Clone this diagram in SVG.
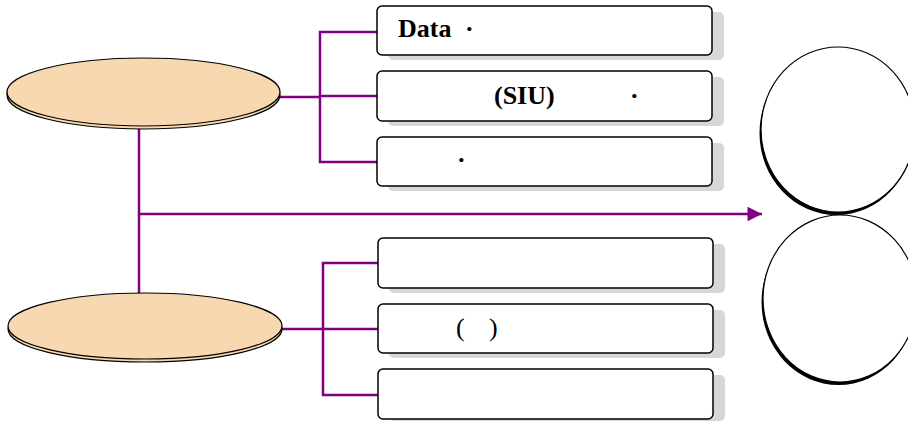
<svg xmlns="http://www.w3.org/2000/svg" width="908" height="421" viewBox="0 0 908 421">
<defs>
<style>
.box{fill:#fff;stroke:#000;stroke-width:1.5}
.sh{fill:#d6d8d6}
.ell{fill:#f7d8b0;stroke:#000;stroke-width:1.2}
.con{fill:none;stroke:#800080;stroke-width:2.5}
.t{font-family:"Liberation Serif",serif;font-size:26px;fill:#000}
.b{font-weight:bold}
.circ{fill:#fff;stroke:#000;stroke-width:1.2}
</style>
<marker id="arr" viewBox="0 0 10 10" refX="10" refY="5" markerWidth="7.6" markerHeight="5.8" markerUnits="strokeWidth" orient="auto">
<path d="M0,0 L10,5 L0,10 Z" fill="#800080"/>
</marker>
</defs>
<rect width="908" height="421" fill="#fff"/>
<g id="connectors">
<polyline class="con" points="280,97 320,97"/>
<polyline class="con" points="378,32 320,32 320,162 378,162"/>
<polyline class="con" points="320,96 378,96"/>
<polyline class="con" points="282,329 323,329"/>
<polyline class="con" points="378,263 323,263 323,395 378,395"/>
<polyline class="con" points="323,329 378,329"/>
<line class="con" x1="139" y1="128" x2="139" y2="294"/>
<line class="con" x1="139" y1="214" x2="762" y2="214" marker-end="url(#arr)"/>
</g>
<g id="ellipse-top">
<ellipse class="ell" cx="143.5" cy="95" rx="136.5" ry="34"/>
<ellipse class="ell" cx="143.5" cy="92" rx="136.5" ry="34"/>
</g>
<g id="ellipse-bottom">
<ellipse class="ell" cx="145" cy="329" rx="137" ry="33"/>
<ellipse class="ell" cx="145" cy="326" rx="137" ry="33"/>
</g>
<g id="box1">
<rect class="sh" x="388" y="12" width="336" height="48" rx="5"/>
<rect class="box" x="377" y="6" width="335" height="49" rx="5"/>
<text class="t b" x="398" y="37">Data<tspan x="465">·</tspan></text>
</g>
<g id="box2">
<rect class="sh" x="388" y="77" width="336" height="49" rx="5"/>
<rect class="box" x="377" y="71" width="335" height="50" rx="5"/>
<text class="t b" x="494" y="104">(SIU)<tspan x="630">·</tspan></text>
</g>
<g id="box3">
<rect class="sh" x="388" y="143" width="336" height="48" rx="5"/>
<rect class="box" x="377" y="137" width="335" height="49" rx="5"/>
<text class="t b" x="457" y="168">·</text>
</g>
<g id="box4">
<rect class="sh" x="389" y="244" width="336" height="49" rx="5"/>
<rect class="box" x="378" y="238" width="335" height="50" rx="5"/>
</g>
<g id="box5">
<rect class="sh" x="389" y="310" width="336" height="48" rx="5"/>
<rect class="box" x="378" y="304" width="335" height="49" rx="5"/>
<text class="t" x="456" y="336">(<tspan x="489">)</tspan></text>
</g>
<g id="box6">
<rect class="sh" x="389" y="375" width="336" height="46" rx="5"/>
<rect class="box" x="378" y="369" width="335" height="50" rx="5"/>
</g>
<g id="circle-top">
<ellipse cx="836.5" cy="133" rx="77" ry="82" fill="#000"/>
<ellipse class="circ" cx="838" cy="129.5" rx="77" ry="82.5"/>
</g>
<g id="circle-bottom">
<ellipse cx="838.5" cy="302" rx="77" ry="83" fill="#000"/>
<ellipse class="circ" cx="840" cy="298.5" rx="77" ry="83.5"/>
</g>
</svg>
